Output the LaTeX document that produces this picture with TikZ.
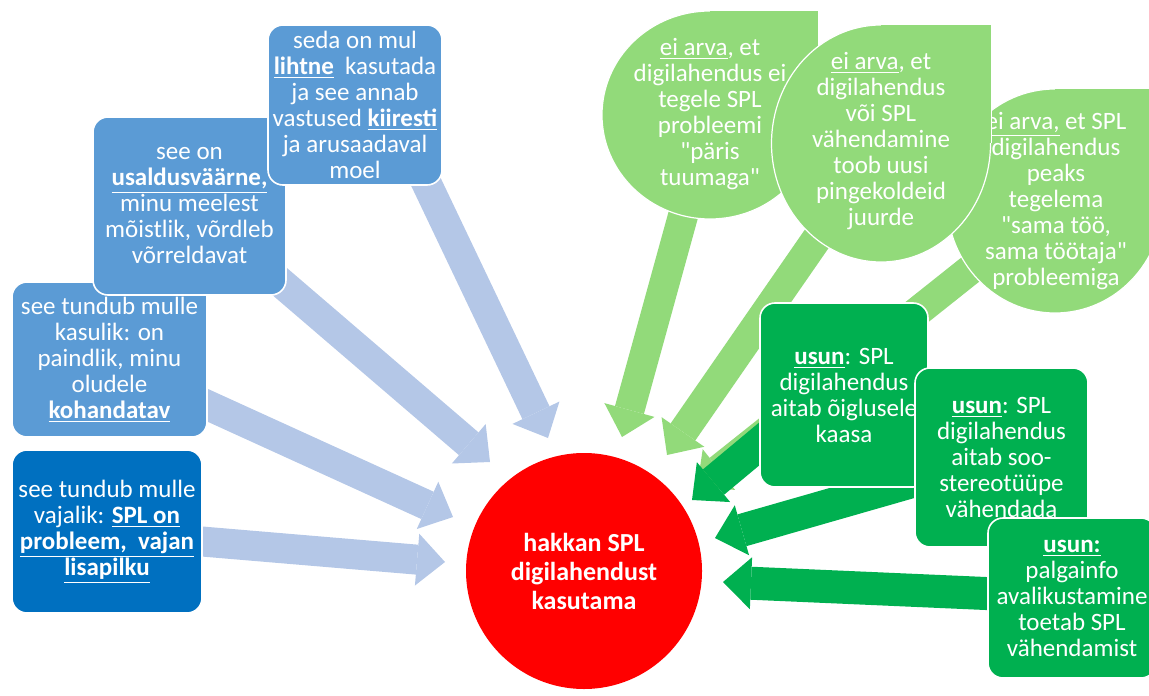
\documentclass[tikz,border=0pt]{standalone}
\usepackage{fontspec}
\setmainfont{Carlito}
\usetikzlibrary{arrows.meta,shapes.geometric,backgrounds}

\definecolor{boxblue}{RGB}{91,155,213}
\definecolor{deepblue}{RGB}{0,112,192}
\definecolor{arrowblue}{RGB}{180,199,231}
\definecolor{leafgreen}{RGB}{146,218,122}
\definecolor{boxgreen}{RGB}{0,176,80}

\tikzset{
  card/.style={rectangle, rounded corners=7.5pt, draw=white, line width=0.8pt,
    inner sep=0pt, text=white, align=center},
  drop/.style={ellipse, fill=leafgreen, draw=white, line width=0.6pt, inner sep=0pt},
  droptext/.style={text=white, align=center, inner sep=0pt},
  fat/.style={line width=15pt, shorten <=-10pt,
    -{Triangle[width=26pt,length=14pt,line width=0pt]}},
}

\begin{document}
\begin{tikzpicture}[x=0.5pt,y=-0.5pt,font=\fontsize{12.5}{13}\selectfont]
    \useasboundingbox (0,0) rectangle (1149,695);

    % blue boxes
    \node[card, fill=boxblue, minimum width=97.5pt, minimum height=77.5pt] (b3) at (109.5,359.5)
        {see tundub mulle\\ kasulik: on\\ paindlik, minu\\ oludele\\ \textbf{\underline{kohandatav}}};
    \node[card, fill=boxblue, minimum width=96.5pt, minimum height=89pt] (b2) at (189.5,206)
        {see on\\ \textbf{\underline{usaldusväärne,}}\\ minu meelest\\ mõistlik, võrdleb\\ võrreldavat};
    \node[card, fill=boxblue, minimum width=87pt, minimum height=80pt] (b1) at (355,105)
        {seda on mul\\ \textbf{\underline{lihtne}}~ kasutada\\ ja see annab\\ vastused \textbf{\underline{kiiresti}}\\ ja arusaadaval\\ moel};
    \node[card, fill=deepblue, minimum width=95pt, minimum height=81.5pt] (b4) at (107,531.5)
        {see tundub mulle\\ vajalik: \textbf{\underline{SPL on}}\\ \textbf{\underline{probleem,~ vajan}}\\ \textbf{\underline{lisapilku}}};

    % green drops
    \node[drop, minimum width=108pt, minimum height=104pt] (g1) at (710,115) {};
    \fill[leafgreen] (g1.center) rectangle (g1.north -| g1.east);
    \draw[white, line width=0.6pt] (g1.north) -| (g1.east);
    \node[droptext] (g1t) at (710,114)
        {\underline{ei arva}, et\\ digilahendus ei\\ tegele SPL\\ probleemi\\ \textquotedbl päris\\ tuumaga\textquotedbl};

    \node[drop, minimum width=108pt, minimum height=112pt] (g3) at (1055,201) {};
    \fill[leafgreen] (g3.center) rectangle (g3.north -| g3.east);
    \draw[white, line width=0.6pt] (g3.north) -| (g3.east);
    \node[droptext] (g3t) at (1056,201)
        {\underline{ei arva,} et SPL\\ digilahendus\\ peaks\\ tegelema\\ \textquotedbl sama töö,\\ sama töötaja\textquotedbl\\ probleemiga};

    \node[drop, minimum width=109.5pt, minimum height=118.5pt] (g2) at (881,143.5) {};
    \fill[leafgreen] (g2.center) rectangle (g2.north -| g2.east);
    \draw[white, line width=0.6pt] (g2.north) -| (g2.east);
    \node[droptext] (g2t) at (881,141)
        {\underline{ei arva}, et\\ digilahendus\\ või SPL\\ vähendamine\\ toob uusi\\ pingekoldeid\\ juurde};

    % dark green boxes
    \node[card, fill=boxgreen, minimum width=84pt, minimum height=92pt] (gd1) at (844,395)
        {\textbf{\underline{usun}}: SPL\\ digilahendus\\ aitab õiglusele\\ kaasa};
    \node[card, fill=boxgreen, minimum width=86.5pt, minimum height=89.5pt] (gd2) at (1001.5,457.5)
        {\textbf{\underline{usun}}: SPL\\ digilahendus\\ aitab soo-\\ stereotüüpe\\ vähendada};
    \node[card, fill=boxgreen, minimum width=84pt, minimum height=80pt] (gd3) at (1072,598)
        {\textbf{\underline{usun:}}\\ palgainfo\\ avalikustamine\\ toetab SPL\\ vähendamist};

    % goal
    \node[circle, fill=red, minimum size=118pt, inner sep=0pt, text=white, align=center,
        font=\bfseries\fontsize{13}{14.5}\selectfont] (goal) at (584,571)
        {hakkan SPL\\ digilahendust\\ kasutama};

    % arrow tips
    \coordinate (t1) at (548,438);
    \coordinate (t2) at (490,462);
    \coordinate (t3) at (453,517);
    \coordinate (t4) at (445,562);
    \coordinate (u1) at (622,437);
    \coordinate (u2) at (667,455);
    \coordinate (u3) at (697,487);
    \coordinate (v1) at (692,500);
    \coordinate (v2) at (715,538);
    \coordinate (v3) at (723,582);

    \begin{scope}[on background layer]
        \foreach \s/\t in {b1.-48/t1, b2.-40/t2, b3.-25/t3, b4.-6/t4} {
            \draw[fat, arrowblue] (\s) -- (\t);
        }
        \foreach \s/\t in {g1.-105/u1, g2.-124/u2, g3.-141/u3} {
            \draw[fat, leafgreen] (\s) -- (\t);
        }
        \foreach \s/\t in {gd1.-150/v1, gd2.-165/v2, gd3.177/v3} {
            \draw[fat, line width=16.5pt, boxgreen] (\s) -- (\t);
        }
    \end{scope}
\end{tikzpicture}
\end{document}
